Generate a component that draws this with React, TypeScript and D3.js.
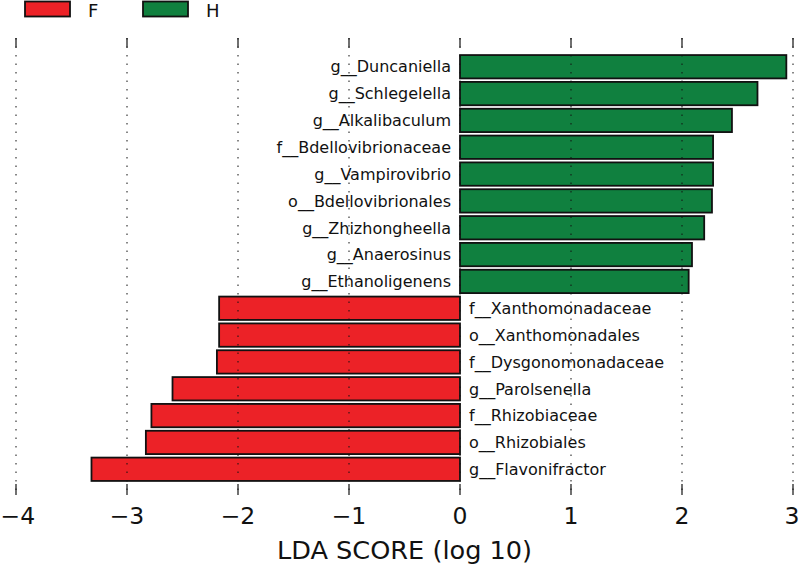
import React from "react";
import * as d3 from "d3";

const names: string[] = [
  "g__Duncaniella",
  "g__Schlegelella",
  "g__Alkalibaculum",
  "f__Bdellovibrionaceae",
  "g__Vampirovibrio",
  "o__Bdellovibrionales",
  "g__Zhizhongheella",
  "g__Anaerosinus",
  "g__Ethanoligenens",
  "f__Xanthomonadaceae",
  "o__Xanthomonadales",
  "f__Dysgonomonadaceae",
  "g__Parolsenella",
  "f__Rhizobiaceae",
  "o__Rhizobiales",
  "g__Flavonifractor",
];
const scores: number[] = [
  2.94, 2.68, 2.45, 2.28, 2.28, 2.27, 2.2, 2.09, 2.06,
  -2.17, -2.17, -2.19, -2.59, -2.78, -2.83, -3.32,
];
const groups: string[] = [
  "H", "H", "H", "H", "H", "H", "H", "H", "H",
  "F", "F", "F", "F", "F", "F", "F",
];
const legendGroups: string[] = ["F", "H"];
const xTicks: number[] = [-4, -3, -2, -1, 0, 1, 2, 3];
const xLabel = "LDA SCORE (log 10)";

const W = 800;
const H = 567;
const FONT = "'DejaVu Sans', sans-serif";

export default function App() {
  const top = 38;
  const bottom = 495;
  const x = d3.scaleLinear().domain([-4, 3]).range([16, 793]);
  const y = d3
    .scaleBand<string>()
    .domain(names)
    .range([top + 1.5, bottom + 1.5])
    .paddingInner(0.13)
    .paddingOuter(0.58);
  const color = d3
    .scaleOrdinal<string, string>()
    .domain(["F", "H"])
    .range(["#ec2227", "#10803f"]);
  const fmt = (v: number) => (v < 0 ? "\u2212" + Math.abs(v) : String(v));
  const tickFont = 23.5;
  // keep the outermost labels inside the picture
  const tickLabelX = (t: number) => {
    const half = (fmt(t).length === 2 ? 1.474 : 0.636) * tickFont * 0.5;
    return Math.min(Math.max(x(t), half + 0.5), W - half - 0.5);
  };

  return (
    <svg
      width={W}
      height={H}
      style={{ position: "absolute", left: 0, top: 0, background: "#fff" }}
      fontFamily={FONT}
    >
      {/* legend */}
      {legendGroups.map((g, i) => (
        <g key={g} transform={`translate(${25 + i * 118},0)`}>
          <rect x={0} y={1.5} width={45} height={15} fill={color(g)} stroke="#111" strokeWidth={1.8} />
          <text x={63} y={16.5} fontSize={18} fill="#111">
            {g}
          </text>
        </g>
      ))}

      {/* bars */}
      {names.map((n, i) => {
        const v = scores[i];
        const x0 = x(Math.min(0, v));
        const x1 = x(Math.max(0, v));
        const yy = y(n)!;
        return (
          <rect
            key={n}
            x={x0}
            y={yy}
            width={x1 - x0}
            height={y.bandwidth()}
            fill={color(groups[i])}
            stroke="#111"
            strokeWidth={1.8}
          />
        );
      })}

      {/* grid lines (drawn over bars) */}
      {xTicks.map((t) => (
        <line
          key={"g" + t}
          x1={x(t)}
          x2={x(t)}
          y1={top}
          y2={bottom}
          stroke="#111"
          strokeWidth={1}
          strokeDasharray="1.5 7"
        />
      ))}

      {/* ticks top & bottom */}
      {xTicks.map((t) => (
        <g key={"t" + t}>
          <line x1={x(t)} x2={x(t)} y1={top} y2={top + 9.5} stroke="#111" strokeWidth={1.2} />
          <line x1={x(t)} x2={x(t)} y1={bottom - 11} y2={bottom} stroke="#111" strokeWidth={1.2} />
          <text x={tickLabelX(t)} y={524} fontSize={tickFont} textAnchor="middle" fill="#111">
            {fmt(t)}
          </text>
        </g>
      ))}

      {/* bar labels */}
      {names.map((n, i) => {
        const v = scores[i];
        const yy = y(n)! + y.bandwidth() / 2;
        return (
          <text
            key={"l" + n}
            x={v > 0 ? x(0) - 9 : x(0) + 9}
            y={yy}
            dy="0.36em"
            fontSize={16}
            textAnchor={v > 0 ? "end" : "start"}
            fill="#111"
          >
            {n}
          </text>
        );
      })}

      {/* x label */}
      <text x={(x(-4) + x(3)) / 2} y={559} fontSize={25.6} textAnchor="middle" fill="#111">
        {xLabel}
      </text>
    </svg>
  );
}
